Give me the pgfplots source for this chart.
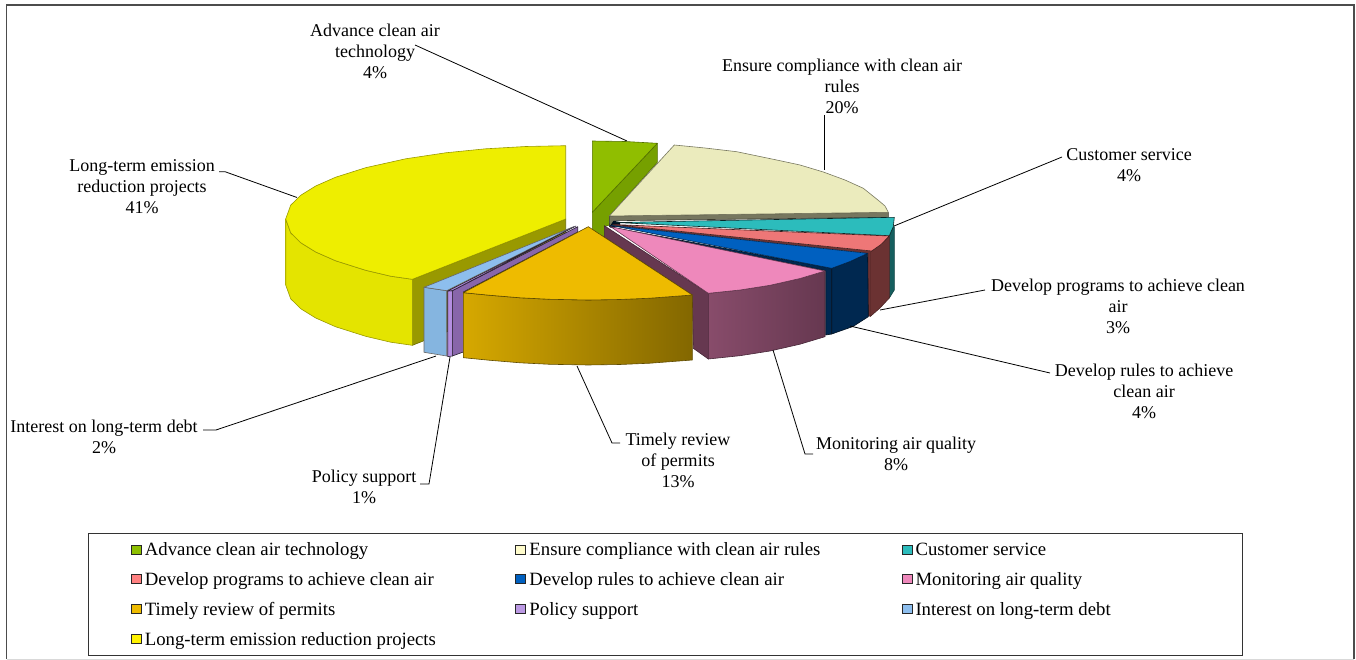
\documentclass[border=0pt]{standalone}
\usepackage{fontspec}
\setmainfont{Liberation Serif}
\usepackage{pgfplots}
\pgfplotsset{compat=1.18}
\definecolor{yTop}{HTML}{EEEE00}\definecolor{yWall}{HTML}{999900}
\definecolor{gTop}{HTML}{90BE00}\definecolor{gWall}{HTML}{76A000}
\definecolor{cTop}{HTML}{EBEBBD}\definecolor{cWall}{HTML}{77775F}
\definecolor{tTop}{HTML}{2CBCBC}\definecolor{tWall}{HTML}{155E5E}
\definecolor{rTop}{HTML}{EE7777}\definecolor{rWall}{HTML}{6B3232}
\definecolor{bTop}{HTML}{0060C0}\definecolor{bWall}{HTML}{002850}
\definecolor{pTop}{HTML}{EE88BB}\definecolor{pWall}{HTML}{663850}
\definecolor{oTop}{HTML}{EEBB00}
\definecolor{lTop}{HTML}{8DBEEE}\definecolor{lWall}{HTML}{85B5E0}
\definecolor{vTop}{HTML}{B48EE0}\definecolor{vWall}{HTML}{8866AA}
\newcommand{\lbl}[3]{\node[align=center,font=\fontsize{18}{21}\selectfont,anchor=center] at (axis cs:#1,#2) {#3};}
\begin{document}
\begin{tikzpicture}
\begin{axis}[
    scale only axis, width=1356pt, height=660pt,
    xmin=0, xmax=1356, ymin=0, ymax=660, y dir=reverse,
    hide axis, clip=false,
    every axis plot/.append style={forget plot},
    face/.style={line width=0.6pt, line join=round},
    leader/.style={black, line width=0.8pt},
    legend columns=3,
    legend cell align=left,
    legend image code/.code={\draw[#1,draw=black!85,line width=1pt] (0pt,-4.5pt) rectangle (10pt,4.5pt);},
    legend style={
        at={(0.0649,0.1924)}, anchor=north west,
        draw=black!80, line width=0.8pt, inner xsep=42.5pt, inner ysep=7pt,
        font=\fontsize{18.75}{21}\selectfont,
        row sep=11.3pt,
        /tikz/column 1/.style={column sep=1pt},
        /tikz/column 2/.style={column sep=77.5pt},
        /tikz/column 3/.style={column sep=1pt},
        /tikz/column 4/.style={column sep=79pt},
        /tikz/column 5/.style={column sep=1pt},
    },
]
% page extent
\addplot[draw=none] coordinates {(0,0) (1356,660)};
% outer frame
\addplot[black!70, line width=1.2pt] coordinates {(6.5,659) (6.5,5) (1354,5) (1354,659)};
\addplot[black!15, line width=1pt] coordinates {(6.5,659) (1354,659)};

% long-term projects
\addplot[face, draw=yWall!70!black, fill=yWall] coordinates {(412.3,279.3) (565.7,219) (565.7,285) (412.3,345.3)} --cycle;
\addplot[face, draw=yWall, left color=yTop!96!black, middle color=yTop, right color=yTop!96!black] coordinates {
  (285.7,219) (290.7,232.8) (300.7,242.7) (315.7,252) (335.7,260.8) (365.7,270.3) (390.7,276.2) (412.3,279.3)
  (412.3,345.3) (390.7,342.2) (365.7,336.3) (335.7,326.8) (315.7,318) (300.7,308.7) (290.7,298.8) (285.7,285)} --cycle;
\addplot[face, draw=yWall, fill=yTop] coordinates {
  (565.7,219) (565.7,145.7) (525.7,146.5) (485.7,148.8) (445.7,152.8) (405.7,158.8) (365.7,167.7) (335.7,177.2)
  (315.7,186) (300.7,195.3) (290.7,205.2) (285.7,219) (290.7,232.8) (300.7,242.7) (315.7,252) (335.7,260.8)
  (365.7,270.3) (390.7,276.2) (412.3,279.3)} --cycle;

% advance clean air technology
\addplot[face, draw=gWall!70!black, fill=gWall] coordinates {
  (592.3,212.3) (657.3,143.3) (657.3,162.3) (609.3,216) (609.3,225) (604.3,226.7) (604.3,236.7) (592.3,232)} --cycle;
\addplot[face, draw=gWall!70!black, fill=gTop] coordinates {(592.3,141) (625,141.5) (657.3,143.3) (592.3,212.3)} --cycle;

% ensure compliance
\addplot[face, draw=black!50!cWall, fill=cWall] coordinates {(609.3,216) (888.3,212.3) (888.3,217.3) (615,220.7) (609.5,226.7)} --cycle;
\addplot[face, draw=cWall, fill=cTop] coordinates {
  (609.3,216) (674.3,145) (705,148) (736.7,151.7) (776.7,160) (800,165) (823.3,172) (845,180) (863.3,188.3)
  (880,201.7) (885,206) (888.3,212.3)} --cycle;

% dark centre behind the thin slices
\addplot[draw=none, fill=black!60!bWall] coordinates {(613.5,220.8) (620,222) (620,225) (612,228) (609.5,226.7)} --cycle;

% customer service
\addplot[face, draw=tWall!70!black, fill=tWall] coordinates {(889.3,236) (893.3,226.7) (894.3,226.7) (894.3,290) (889.3,298)} --cycle;
\addplot[face, draw=black!60!tWall, fill=tTop] coordinates {(616,222.5) (894.3,217.3) (893.3,226.7) (889.3,235.7)} --cycle;

% develop programs
\addplot[face, draw=rWall!70!black, fill=rWall] coordinates {(870,252) (880,245) (889.3,236) (889.3,298) (880,308) (870,316.7)} --cycle;
\addplot[draw=none, fill=rWall] coordinates {(613,224.5) (871.7,251) (870,252) (870,316) (867.7,316) (867.7,253.3) (611.5,225.5)} --cycle;
\addplot[face, draw=black!40!rWall, fill=rTop] coordinates {(613,224.5) (889.3,236) (881,244.5) (871.7,251)} --cycle;

% develop rules
\addplot[face, draw=black!60!bWall, fill=bWall] coordinates {(610,227) (831.7,268.3) (831.7,334) (825.7,335) (825.7,270.8)} --cycle;
\addplot[face, draw=black!60!bWall, fill=bWall] coordinates {(831.7,268.3) (850,261.5) (867.7,253.3) (868.3,316.7) (853,326.5) (831.7,334)} --cycle;
\addplot[face, draw=bWall, fill=bTop] coordinates {(611.5,225.5) (867.7,253.3) (850,261.5) (831.7,268.3)} --cycle;

% monitoring air quality
\addplot[face, draw=pWall!70!black, fill=pWall] coordinates {(604.3,225.7) (708.3,293.3) (708.3,359) (693.3,348.3) (692.3,295) (604.3,237)} --cycle;
\addplot[face, draw=pWall!70!black, left color=pWall!75!pTop, right color=pWall] coordinates {
  (708.3,293.3) (740,290) (770,285.3) (800,278.5) (825,271) (825,336.7) (800,344.2) (770,351) (740,355.7) (708.3,359)} --cycle;
\addplot[face, draw=pWall, fill=pTop] coordinates {(610.7,226.7) (825,271) (800,278.5) (770,285.3) (740,290) (708.3,293.3)} --cycle;

% interest on long-term debt
\addplot[face, draw=black!60, fill=lWall] coordinates {(424,287.3) (446.7,290.7) (446.7,356) (424,352.3)} --cycle;
\addplot[face, draw=black!60, fill=lTop] coordinates {(424,287.3) (574,226.5) (446.7,290.7)} --cycle;

% policy support
\addplot[face, draw=black!70!vWall, fill=vWall] coordinates {(452.3,290.7) (577.7,226.7) (577.7,232) (463.3,292) (463.3,352) (452.3,356)} --cycle;
\addplot[face, draw=black!70!vWall, fill=vTop] coordinates {(447.7,291) (452.3,290.7) (452.3,356) (447.7,356.7)} --cycle;
\addplot[face, draw=black!70!vWall, fill=vTop] coordinates {(447.7,291) (576,226) (452.3,290.7)} --cycle;

% timely review
\addplot[face, draw=black!60!oTop, left color=oTop!90!black, right color=oTop!55!black] coordinates {
  (463.3,292.7) (490,295.3) (520,297.8) (550,299.3) (588,300) (620,299.5) (650,298.2) (692.3,295)
  (692.3,360) (650,363.2) (620,364.5) (588,365) (550,364.3) (520,362.8) (490,360.3) (463.3,357.7)} --cycle;
\addplot[face, draw=black!60!oTop, fill=oTop] coordinates {
  (588.3,226.7) (692.3,295) (650,298.2) (620,299.5) (588,300) (550,299.3) (520,297.8) (490,295.3) (463.3,292.7)} --cycle;

% leader lines
\addplot[leader] coordinates {(415,45) (627,141)};
\addplot[leader] coordinates {(824,115) (824,170)};
\addplot[leader] coordinates {(1062,157) (894,226)};
\addplot[leader] coordinates {(985,290) (880,310)};
\addplot[leader] coordinates {(1050,373) (850,326)};
\addplot[leader] coordinates {(813,454) (805,454) (773,350)};
\addplot[leader] coordinates {(620,443) (612,443) (577,366)};
\addplot[leader] coordinates {(420,484) (429,484) (450,357)};
\addplot[leader] coordinates {(203,430) (216,430) (436,356)};
\addplot[leader] coordinates {(219,171.7) (225,171.7) (297,197.5)};

% data labels
\lbl{375}{51}{Advance clean air\\technology\\4\%}
\lbl{842}{86}{Ensure compliance with clean air\\rules\\20\%}
\lbl{1129}{165.5}{Customer service\\4\%}
\lbl{1118}{306}{Develop programs to achieve clean\\air\\3\%}
\lbl{1144}{391}{Develop rules to achieve\\clean air\\4\%}
\lbl{896}{453.5}{Monitoring air quality\\8\%}
\lbl{678}{460}{Timely review\\of permits\\13\%}
\lbl{364}{486.5}{Policy support\\1\%}
\lbl{104}{436.5}{Interest on long-term debt\\2\%}
\lbl{142}{187}{Long-term emission\\reduction projects\\41\%}

% legend
\addlegendimage{fill=gTop!98!green}
\addlegendentry{Advance clean air technology}
\addlegendimage{fill=yellow!20}
\addlegendentry{Ensure compliance with clean air rules}
\addlegendimage{fill=tTop}
\addlegendentry{Customer service}
\addlegendimage{fill=red!50}
\addlegendentry{Develop programs to achieve clean air}
\addlegendimage{fill=bTop}
\addlegendentry{Develop rules to achieve clean air}
\addlegendimage{fill=pTop}
\addlegendentry{Monitoring air quality}
\addlegendimage{fill=oTop}
\addlegendentry{Timely review of permits}
\addlegendimage{fill=vTop!90!white}
\addlegendentry{Policy support}
\addlegendimage{fill=lTop}
\addlegendentry{Interest on long-term debt\hspace*{87.5pt}}
\addlegendimage{fill=yellow}
\addlegendentry{Long-term emission reduction projects}
\end{axis}
\end{tikzpicture}
\end{document}
